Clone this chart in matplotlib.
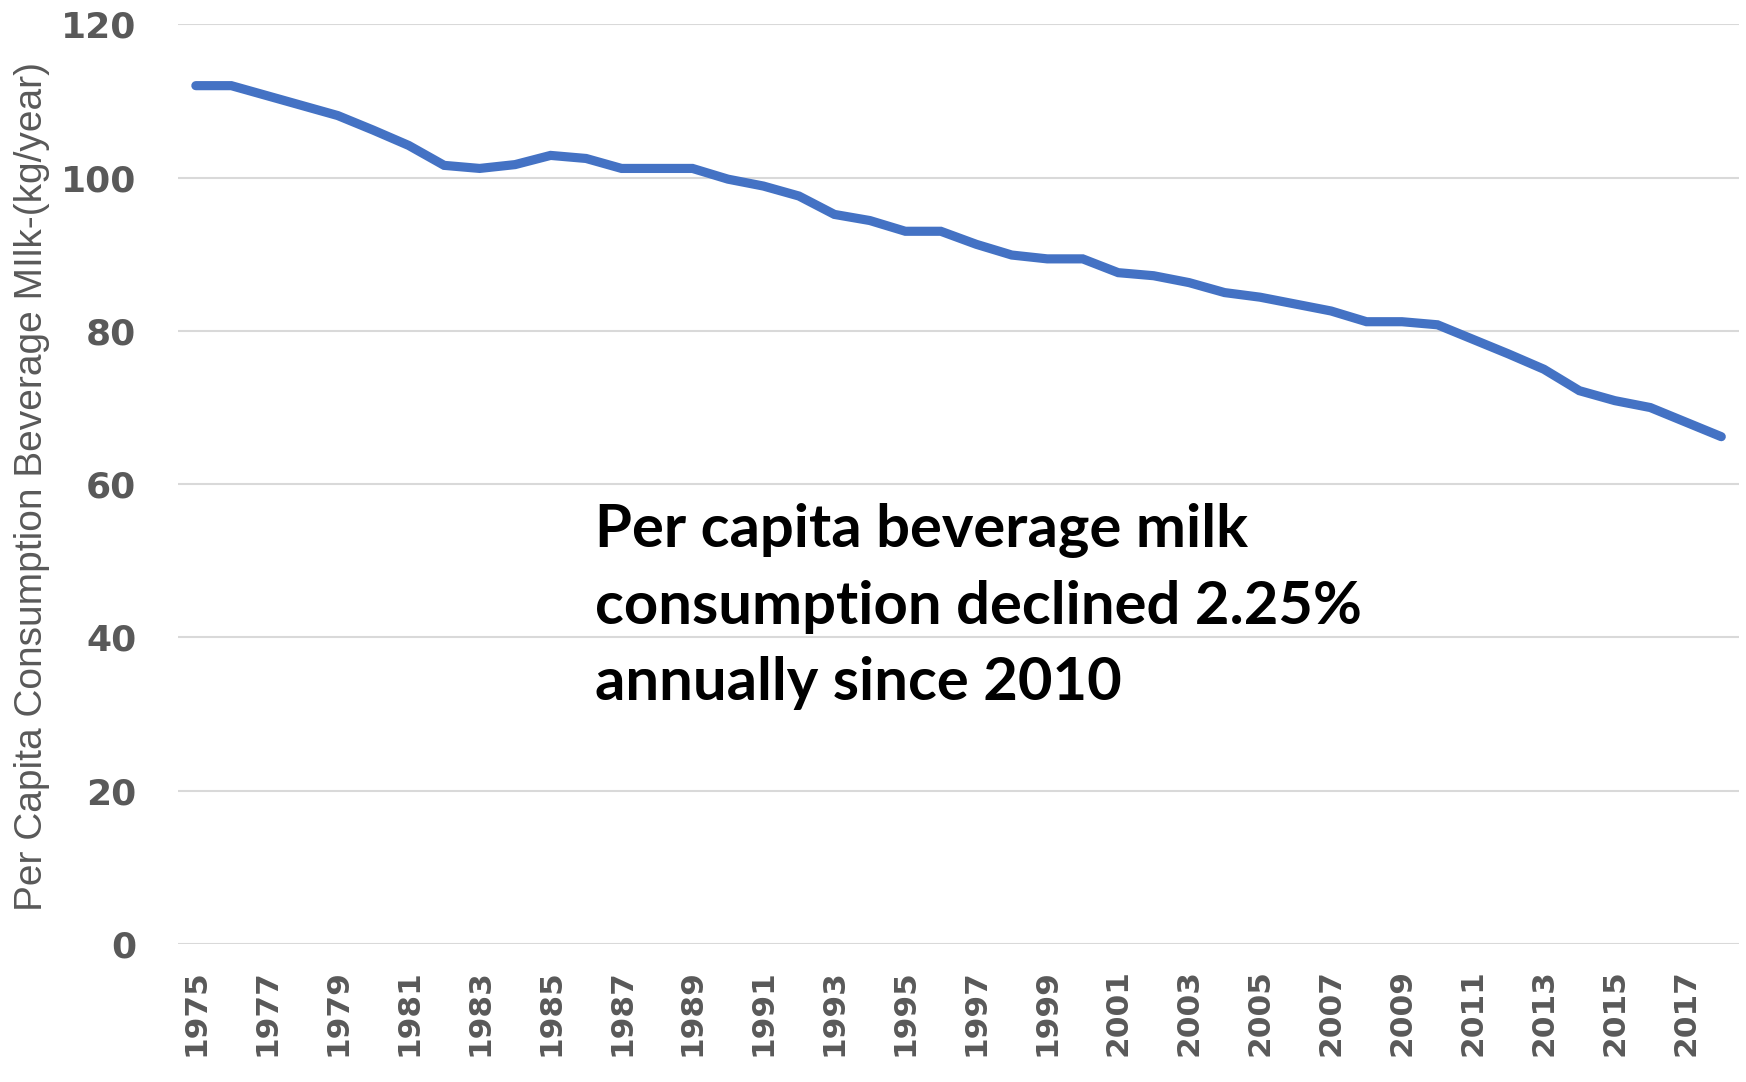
import matplotlib
matplotlib.use("Agg")
import matplotlib.pyplot as plt
import numpy as np

years = list(range(1975, 2019))
milk = [112.0, 112.0, 110.7, 109.4, 108.1, 106.2, 104.2, 101.6, 101.2, 101.7,
        102.9, 102.5, 101.2, 101.2, 101.2, 99.8, 98.9, 97.6, 95.2, 94.4,
        93.0, 93.0, 91.3, 89.9, 89.4, 89.4, 87.6, 87.2, 86.3, 85.0,
        84.4, 83.5, 82.6, 81.2, 81.2, 80.8, 78.9, 77.0, 75.0, 72.2,
        70.9, 70.0, 68.1, 66.2]
y_ticks = [0, 20, 40, 60, 80, 100, 120]
note = "Per capita beverage milk\nconsumption declined 2.25%\nannually since 2010"
ylabel = "Per Capita Consumption Beverage MIlk-(kg/year)"

fig = plt.figure(figsize=(17.46, 10.82), dpi=100)
ax = fig.add_axes([0.102, 0.1275, 0.894, 0.85])

x = np.arange(len(years))
ax.plot(x, milk, color="#4472C4", lw=6.6, solid_capstyle="round", solid_joinstyle="miter", zorder=3)

ax.set_xlim(-0.5, len(years) - 0.5)
ax.set_ylim(0, 120)
ax.set_yticks(y_ticks)
ax.set_yticklabels([str(t) for t in y_ticks])
ax.set_xticks(x[::2])
ax.set_xticklabels([str(y) for y in years[::2]], rotation=90)

for lbl in ax.get_yticklabels():
    lbl.set_fontweight("bold")
    lbl.set_fontsize(26)
    lbl.set_color("#595959")
for lbl in ax.get_xticklabels():
    lbl.set_fontweight("bold")
    lbl.set_fontsize(22.5)
    lbl.set_color("#595959")

ax.tick_params(axis="both", length=0)
ax.tick_params(axis="y", pad=30)
ax.tick_params(axis="x", pad=18)

ax.grid(axis="y", color="#D9D9D9", lw=1.5)
ax.set_axisbelow(True)
for s in ax.spines.values():
    s.set_visible(False)

ax.set_ylabel(ylabel, fontsize=28, color="#595959",
              family=["Liberation Sans", "DejaVu Sans"])
ax.yaxis.set_label_coords(-0.082, 0.497)

ax.text(11.25, 57.6, note, fontsize=43, fontweight="bold", color="black",
        family=["Lato", "DejaVu Sans"], va="top", ha="left", linespacing=1.5)

fig.savefig("out.png", dpi=100)
